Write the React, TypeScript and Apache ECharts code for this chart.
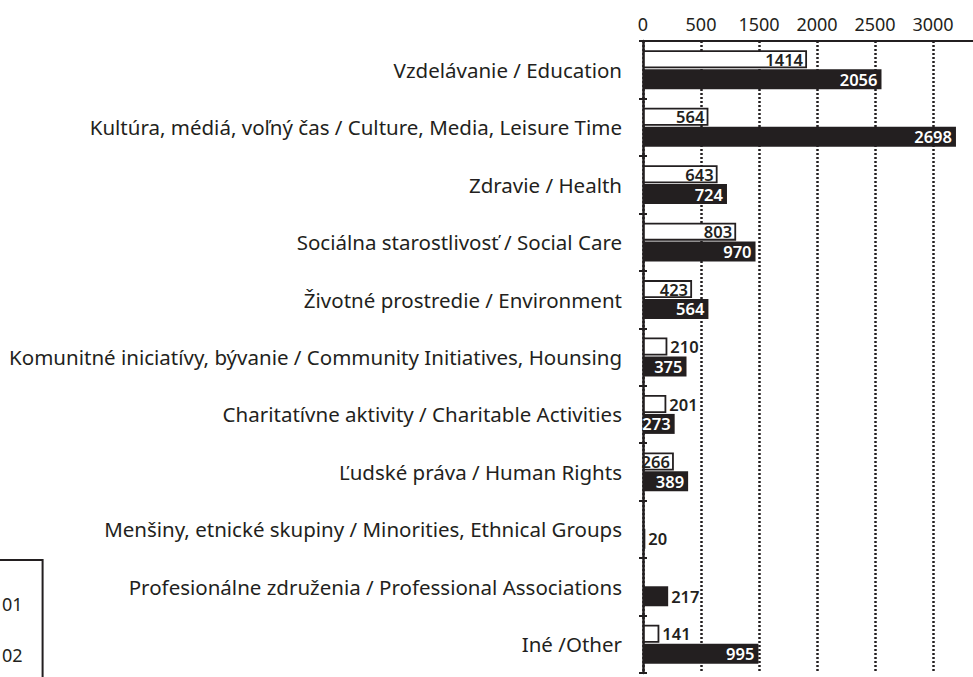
import React, { useEffect, useRef } from "react";
import * as echarts from "echarts";

const categories = [
  "Vzdelávanie / Education",
  "Kultúra, médiá, voľný čas / Culture, Media, Leisure Time",
  "Zdravie / Health",
  "Sociálna starostlivosť / Social Care",
  "Životné prostredie / Environment",
  "Komunitné iniciatívy, bývanie / Community Initiatives, Hounsing",
  "Charitatívne aktivity / Charitable Activities",
  "Ľudské práva / Human Rights",
  "Menšiny, etnické skupiny / Minorities, Ethnical Groups",
  "Profesionálne združenia / Professional Associations",
  "Iné /Other",
];
const series01: (number | null)[] = [1414, 564, 643, 803, 423, 210, 201, 266, null, null, 141];
const series02: number[] = [2056, 2698, 724, 970, 564, 375, 273, 389, 20, 217, 995];
const tickLabels = ["0", "500", "1500", "2000", "2500", "3000"];

const FONT = "'Noto Sans', sans-serif";
const INK = "#231f20";

export default function App() {
  const ref = useRef<HTMLDivElement>(null);
  useEffect(() => {
    if (!ref.current) return;
    const chart = echarts.init(ref.current, undefined, { renderer: "svg" });
    const mk = (vals: (number | null)[], textColor: string) =>
      vals.map((v) =>
        v == null
          ? null
          : {
              value: v,
              label:
                v < 250
                  ? { position: "right", color: INK, distance: 3 }
                  : { position: "insideRight", color: textColor, distance: 4 },
            }
      );
    chart.setOption({
      animation: false,
      textStyle: { fontFamily: FONT },
      grid: {
        left: 643,
        top: 41,
        width: 348,
        bottom: 4,
        containLabel: false,
        outerBoundsMode: "none",
      },
      legend: {
        orient: "vertical",
        left: -39,
        top: 560,
        height: 160,
        padding: [34, 20, 30, 10],
        itemGap: 31,
        itemWidth: 25,
        itemHeight: 14,
        borderColor: INK,
        borderWidth: 2,
        textStyle: { fontSize: 18, color: INK, fontFamily: FONT, lineHeight: 20 },
        data: [
          { name: "01", icon: "rect" },
          { name: "02", icon: "rect" },
        ],
      },
      xAxis: {
        type: "value",
        position: "top",
        min: 0,
        max: 3000,
        interval: 500,
        axisLine: { show: true, lineStyle: { color: INK, width: 2 } },
        axisTick: { show: false },
        axisLabel: {
          margin: 8,
          fontSize: 18,
          color: INK,
          fontFamily: FONT,
          formatter: (v: number) => tickLabels[Math.round(v / 500)] ?? "",
        },
        splitLine: { show: true, lineStyle: { color: INK, width: 2.5, type: [2, 2] } },
      },
      yAxis: [
        {
          type: "category",
          inverse: true,
          data: categories,
          axisLine: { show: true, lineStyle: { color: INK, width: 2.5 } },
          axisTick: { show: true, length: 4, lineStyle: { color: INK, width: 2 } },
          axisLabel: { margin: 21, fontSize: 20.5, color: INK, fontFamily: FONT },
        },
        {
          type: "category",
          inverse: true,
          position: "left",
          data: categories,
          axisLine: { show: false },
          axisTick: { show: true, inside: true, length: 4, lineStyle: { color: INK, width: 2 } },
          axisLabel: { show: false },
          splitLine: { show: false },
        },
      ],
      series: [
        {
          name: "01",
          type: "bar",
          barWidth: 18,
          barGap: "5%",
          itemStyle: { color: "#ffffff", borderColor: INK, borderWidth: 1.8 },
          label: { show: true, fontSize: 16.5, fontWeight: 600, fontFamily: FONT },
          data: mk(series01, INK),
        },
        {
          name: "02",
          type: "bar",
          barWidth: 20,
          itemStyle: { color: INK },
          label: { show: true, fontSize: 16.5, fontWeight: 600, fontFamily: FONT },
          data: mk(series02, "#ffffff"),
        },
      ],
    });
    return () => chart.dispose();
  }, []);
  return (
    <div
      ref={ref}
      style={{ position: "absolute", left: 0, top: 0, width: 973, height: 677, background: "#fff" }}
    />
  );
}
